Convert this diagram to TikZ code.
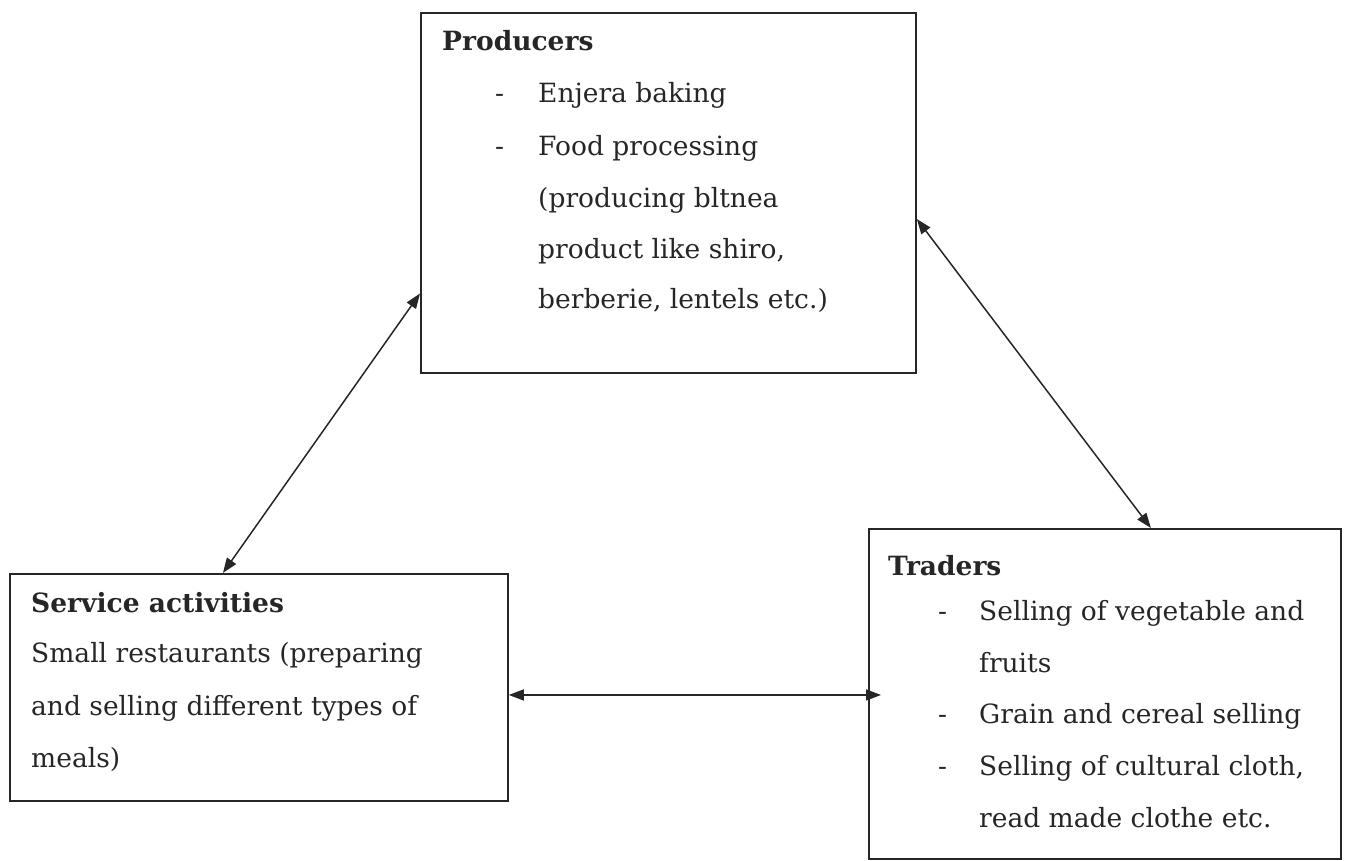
\documentclass[tikz,border=0pt]{standalone}
\usepackage{fontspec}
\setmainfont{DejaVu Serif}
\usetikzlibrary{arrows.meta,calc}
\begin{document}
\begin{tikzpicture}[x=1pt,y=-1pt,
  box/.style={draw=black!85, line width=1.8pt, inner sep=0pt, anchor=north west},
  txt/.style={anchor=base west, inner sep=0pt, font=\fontsize{26.5}{30}\selectfont, text=black!85},
  ttl/.style={txt, font=\fontsize{26.5}{30}\selectfont\bfseries},
  link/.style={draw=black!85, line width=1.5pt, {Triangle[length=15pt,width=11pt]}-{Triangle[length=15pt,width=11pt]}}]
\useasboundingbox (0,0) rectangle (1368,860);
% boxes
\node[box, minimum width=495pt, minimum height=360pt] (prod) at (420,12) {};
\node[box, minimum width=498pt, minimum height=227pt] (serv) at (9,573) {};
\node[box, minimum width=472pt, minimum height=330pt] (trad) at (868,528) {};
% producers text
\node[ttl] (pt) at (442,50) {Producers};
\node[txt] (pd1) at (495,102) {-};
\node[txt] (p1) at (538,102) {Enjera baking};
\node[txt] (pd2) at (495,155) {-};
\node[txt] (p2) at (538,155) {Food processing};
\node[txt] (p3) at (538,207) {(producing bltnea};
\node[txt] (p4) at (538,258) {product like shiro,};
\node[txt] (p5) at (538,308) {berberie, lentels etc.)};
% service text
\node[ttl] (st) at (31,612) {Service activities};
\node[txt] (s1) at (31,662) {Small restaurants (preparing};
\node[txt] (s2) at (31,715) {and selling different types of};
\node[txt] (s3) at (31,767) {meals)};
% traders text
\node[ttl] (tt) at (888,575) {Traders};
\node[txt] (td1) at (938,620) {-};
\node[txt] (t1) at (979,620) {Selling of vegetable and};
\node[txt] (t2) at (979,672) {fruits};
\node[txt] (td2) at (938,723) {-};
\node[txt] (t3) at (979,723) {Grain and cereal selling};
\node[txt] (td3) at (938,775) {-};
\node[txt] (t4) at (979,775) {Selling of cultural cloth,};
\node[txt] (t5) at (979,827) {read made clothe etc.};
% connectors
\draw[link] ($(prod.north west)!0.778!(prod.south west)$) -- ($(serv.north west)!0.428!(serv.north east)$);
\draw[link] ($(prod.north east)!0.572!(prod.south east)$) -- ($(trad.north west)!0.597!(trad.north east)$);
\coordinate (h1) at ($(serv.north east)!0.533!(serv.south east)$);
\draw[link, shorten >=-13pt] (h1) -- (h1 -| trad.west);
\end{tikzpicture}
\end{document}
